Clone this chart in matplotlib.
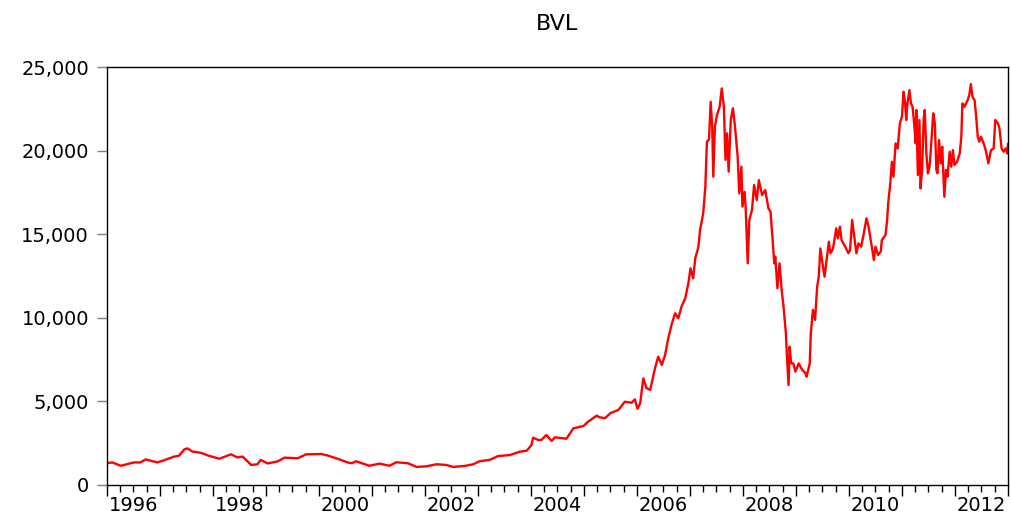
"""BVL index line chart (EViews style), saved to out.png."""

import matplotlib

matplotlib.use("Agg")
import matplotlib.pyplot as plt
import numpy as np
from matplotlib.ticker import StrMethodFormatter

OUTPUT_PATH = "out.png"

# dates as decimal years
years = [
    1996.00, 1996.10, 1996.26, 1996.51, 1996.63, 1996.73, 1996.95, 1997.05,
    1997.27, 1997.36, 1997.46, 1997.52, 1997.61, 1997.77, 1997.90, 1998.12,
    1998.34, 1998.46, 1998.56, 1998.72, 1998.84, 1998.90, 1999.03, 1999.22,
    1999.35, 1999.60, 1999.76, 2000.04, 2000.16, 2000.35, 2000.54, 2000.62,
    2000.70, 2000.95, 2001.14, 2001.33, 2001.46, 2001.68, 2001.84, 2002.03,
    2002.22, 2002.40, 2002.53, 2002.75, 2002.91, 2003.03, 2003.22, 2003.38,
    2003.60, 2003.79, 2003.92, 2004.01, 2004.04, 2004.14, 2004.20, 2004.29,
    2004.39, 2004.45, 2004.67, 2004.80, 2004.99, 2005.08, 2005.24, 2005.29,
    2005.40, 2005.50, 2005.65, 2005.77, 2005.90, 2005.96, 2006.01, 2006.06,
    2006.12, 2006.18, 2006.25, 2006.34, 2006.40, 2006.47, 2006.53, 2006.59,
    2006.66, 2006.72, 2006.78, 2006.84, 2006.91, 2006.97, 2007.01, 2007.06,
    2007.10, 2007.16, 2007.19, 2007.25, 2007.29, 2007.32, 2007.36, 2007.39,
    2007.42, 2007.44, 2007.47, 2007.51, 2007.56, 2007.60, 2007.64, 2007.67,
    2007.70, 2007.73, 2007.77, 2007.81, 2007.85, 2007.90, 2007.93, 2007.97,
    2007.99, 2008.03, 2008.05, 2008.09, 2008.12, 2008.17, 2008.21, 2008.26,
    2008.30, 2008.36, 2008.42, 2008.48, 2008.52, 2008.56, 2008.59, 2008.61,
    2008.65, 2008.69, 2008.73, 2008.76, 2008.81, 2008.83, 2008.86, 2008.88,
    2008.91, 2008.95, 2008.99, 2009.05, 2009.12, 2009.18, 2009.20, 2009.26,
    2009.28, 2009.32, 2009.36, 2009.40, 2009.43, 2009.46, 2009.50, 2009.54,
    2009.57, 2009.62, 2009.65, 2009.70, 2009.76, 2009.79, 2009.83, 2009.86,
    2009.93, 2009.99, 2010.02, 2010.06, 2010.10, 2010.14, 2010.18, 2010.23,
    2010.28, 2010.33, 2010.37, 2010.42, 2010.47, 2010.50, 2010.55, 2010.60,
    2010.62, 2010.69, 2010.72, 2010.74, 2010.78, 2010.81, 2010.84, 2010.88,
    2010.92, 2010.96, 2011.00, 2011.03, 2011.06, 2011.08, 2011.10, 2011.14,
    2011.17, 2011.20, 2011.23, 2011.26, 2011.27, 2011.30, 2011.33, 2011.35,
    2011.38, 2011.41, 2011.43, 2011.46, 2011.49, 2011.52, 2011.54, 2011.57,
    2011.59, 2011.62, 2011.65, 2011.67, 2011.70, 2011.73, 2011.76, 2011.78,
    2011.80, 2011.83, 2011.86, 2011.90, 2011.93, 2011.96, 2011.99, 2012.04,
    2012.09, 2012.12, 2012.14, 2012.18, 2012.21, 2012.24, 2012.27, 2012.30,
    2012.33, 2012.37, 2012.40, 2012.43, 2012.46, 2012.49, 2012.54, 2012.58,
    2012.63, 2012.68, 2012.73, 2012.76, 2012.81, 2012.84, 2012.88, 2012.92,
    2012.96, 2012.99, 2013.00,
]
bvl = [
    1300, 1350, 1150, 1350, 1350, 1530, 1350, 1450,
    1700, 1750, 2130, 2190, 2000, 1930, 1770, 1570,
    1835, 1650, 1700, 1200, 1240, 1500, 1290, 1410,
    1635, 1600, 1835, 1850, 1770, 1570, 1350, 1300,
    1420, 1150, 1280, 1150, 1360, 1300, 1080, 1120,
    1240, 1200, 1080, 1140, 1240, 1420, 1500, 1730,
    1790, 1990, 2050, 2390, 2830, 2690, 2700, 2990,
    2630, 2850, 2770, 3390, 3530, 3790, 4150, 4050,
    4000, 4300, 4490, 4980, 4920, 5120, 4560, 4880,
    6380, 5790, 5690, 6980, 7670, 7180, 7770, 8770,
    9670, 10270, 9970, 10660, 11160, 12060, 12960, 12360,
    13560, 14250, 15250, 16250, 17840, 20530, 20670, 22920,
    21430, 18440, 21430, 22130, 22620, 23720, 22620, 19440,
    21030, 18740, 21830, 22530, 21430, 19640, 17440, 19040,
    16650, 17540, 16650, 13260, 15850, 16450, 17940, 17040,
    18240, 17340, 17640, 16550, 16350, 14650, 13260, 13660,
    11760, 13260, 11660, 10860, 9070, 7670, 5980, 8270,
    7270, 7270, 6780, 7270, 6880, 6680, 6480, 7270,
    9070, 10470, 9870, 11860, 12460, 14150, 13260, 12460,
    13260, 14550, 13860, 14150, 15350, 14750, 15450, 14650,
    14250, 13860, 14050, 15850, 14850, 13860, 14450, 14250,
    15050, 15950, 15450, 14450, 13460, 14250, 13760, 13960,
    14650, 14950, 15850, 16850, 18040, 19330, 18440, 20430,
    20130, 21630, 22030, 23520, 22820, 21830, 22720, 23620,
    22820, 22620, 21630, 20430, 22430, 18540, 21830, 17740,
    18840, 21930, 22430, 19840, 18640, 19040, 19840, 21230,
    22230, 21630, 18840, 18640, 20630, 19240, 20230, 18640,
    17240, 18840, 18440, 19930, 19040, 20030, 19140, 19340,
    19840, 20830, 22820, 22620, 22820, 23020, 23320, 23980,
    23220, 23020, 22030, 20830, 20530, 20830, 20430, 20030,
    19240, 20030, 20130, 21830, 21630, 21330, 20130, 19930,
    20130, 19830, 20390,
]

label_years = list(range(1996, 2013, 2))
y_ticks = [0, 5000, 10000, 15000, 20000, 25000]


def build_chart():
    fig = plt.figure(figsize=(10.11, 5.17), dpi=100)
    ax = fig.add_axes([0.1058, 0.0619, 0.8912, 0.8085])

    ax.plot(years, bvl, color="#ff0000", linewidth=1.7)

    ax.set_xlim(1996, 2013)
    ax.set_ylim(0, 25000)

    # year ticks long, quarter ticks short, labels centred in the year
    ax.set_xticks(np.arange(1996, 2014))
    ax.set_xticks(np.arange(1996, 2013.01, 0.25), minor=True)
    ax.tick_params(axis="x", which="major", length=8, width=1, color="black",
                   labelbottom=False)
    ax.tick_params(axis="x", which="minor", length=5, width=1, color="black")

    sec = ax.secondary_xaxis("bottom")
    sec.set_xticks([y + 0.5 for y in label_years],
                   labels=[str(y) for y in label_years])
    sec.tick_params(length=0, pad=8, labelsize=14)
    sec.spines["bottom"].set_visible(False)

    ax.set_yticks(y_ticks)
    ax.yaxis.set_major_formatter(StrMethodFormatter("{x:,.0f}"))
    ax.tick_params(axis="y", length=7, width=1, color="#808080", pad=6,
                   labelsize=14)

    for spine in ax.spines.values():
        spine.set_linewidth(1.0)
        spine.set_color("black")

    ax.set_title("BVL", fontsize=16, pad=27)

    fig.savefig(OUTPUT_PATH, dpi=100)


def main():
    assert len(years) == len(bvl)
    build_chart()


if __name__ == "__main__":
    main()
